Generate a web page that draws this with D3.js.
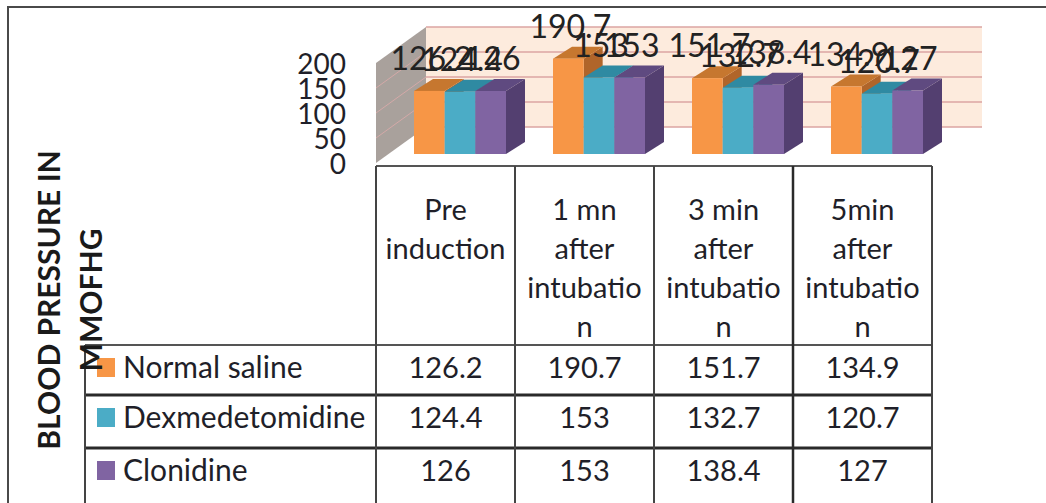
<!DOCTYPE html>
<html>
<head>
<meta charset="utf-8">
<script src="https://cdn.jsdelivr.net/npm/d3@7"></script>
<style>
	body { margin: 0; background: #fff; }
	svg { display: block; font-family: Lato, "Open Sans", sans-serif; }
</style>
</head>
<body>
<div id="root"></div>
<script>
const width = 1046;
const height = 503;

// data
const categories = ["Pre induction", "1 mn after intubation", "3 min after intubation", "5min after intubation"];
const headerLines = [["Pre", "induction"], ["1 mn", "after", "intubatio", "n"], ["3 min", "after", "intubatio", "n"], ["5min", "after", "intubatio", "n"]];
const seriesNames = ["Normal saline", "Dexmedetomidine", "Clonidine"];
const normalSaline = [126.2, 190.7, 151.7, 134.9];
const dexmedetomidine = [124.4, 153, 132.7, 120.7];
const clonidine = [126, 153, 138.4, 127];
const yTicks = [0, 50, 100, 150, 200];
const axisTitle = ["BLOOD PRESSURE IN", "MMOFHG"];

const seriesValues = [normalSaline, dexmedetomidine, clonidine];
const palette = {
	"Normal saline": { front: "#f79646", top: "#c6772f", side: "#b0652a" },
	"Dexmedetomidine": { front: "#4bacc6", top: "#2f8aa2", side: "#317e93" },
	"Clonidine": { front: "#8064a2", top: "#5f4a80", side: "#533f70" }
};
const textColor = "#1f1f29";

const svg = d3.select("#root")
	.append("svg")
		.attr("width", width)
		.attr("height", height);

// scales
const x0 = d3.scaleBand()
	.domain(categories)
	.range([376, 932]);
const x1 = d3.scaleBand()
	.domain(seriesNames)
	.range([38, 130]);
const yWall = d3.scaleLinear()
	.domain([0, 200])
	.range([163, 63]);
const yBar = d3.scaleLinear()
	.domain([0, 200])
	.range([154, 54]);

const wallDx = 50, wallDy = -36;
const barDx = 19, barDy = -12;

// outer frame
svg.append("path")
	.attr("d", `M8,${height} V7 H${width}`)
	.style("fill", "none")
	.style("stroke", "#4a4a4a")
	.style("stroke-width", 2);

// back wall + side wall
const wallLeft = x0.range()[0], wallRight = x0.range()[1];
svg.append("rect")
	.attr("x", wallLeft + wallDx)
	.attr("y", yWall(200) + wallDy)
	.attr("width", wallRight - wallLeft)
	.attr("height", yWall(0) - yWall(200))
	.style("fill", "#fdebdd");

svg.append("path")
	.attr("d", `M${wallLeft},${yWall(0)} V${yWall(200)} L${wallLeft + wallDx},${yWall(200) + wallDy} V${yWall(0) + wallDy} Z`)
	.style("fill", "#a9a19c");

const grid = svg.append("g").attr("class", "grid");
grid.selectAll(".back")
	.data(yTicks).enter()
	.append("line")
		.attr("x1", wallLeft + wallDx)
		.attr("x2", wallRight + wallDx)
		.attr("y1", d => yWall(d) + wallDy)
		.attr("y2", d => yWall(d) + wallDy)
		.style("stroke", "#dba4a2")
		.style("stroke-width", 1.5);
grid.selectAll(".side")
	.data(yTicks.slice(1, -1)).enter()
	.append("line")
		.attr("x1", wallLeft)
		.attr("x2", wallLeft + wallDx)
		.attr("y1", d => yWall(d))
		.attr("y2", d => yWall(d) + wallDy)
		.style("stroke", "#d4a9a8")
		.style("stroke-width", 1);

// y tick labels
svg.selectAll(".tick")
	.data(yTicks).enter()
	.append("text")
		.attr("x", 346)
		.attr("y", d => yWall(d) + 11)
		.text(d => d)
		.style("font-size", "28px")
		.style("fill", textColor)
		.style("text-anchor", "end");

// bars
const bars = [];
categories.forEach((c, ci) => {
	seriesNames.forEach((s, si) => {
		bars.push({ cat: c, series: s, value: seriesValues[si][ci] });
	});
});

const barW = x1.bandwidth();
const items = svg.selectAll(".bar")
	.data(bars).enter()
	.append("g")
		.attr("class", "bar");

items.append("path")
	.attr("d", d => {
		const x = x0(d.cat) + x1(d.series) + barW, t = yBar(d.value), b = yBar(0);
		return `M${x},${t} l${barDx},${barDy} V${b + barDy} L${x},${b} Z`;
	})
	.style("fill", d => palette[d.series].side);

items.append("path")
	.attr("d", d => {
		const x = x0(d.cat) + x1(d.series), t = yBar(d.value);
		return `M${x},${t} l${barDx},${barDy} h${barW} l${-barDx},${-barDy} Z`;
	})
	.style("fill", d => palette[d.series].top);

items.append("rect")
	.attr("x", d => x0(d.cat) + x1(d.series))
	.attr("y", d => yBar(d.value))
	.attr("width", barW)
	.attr("height", d => yBar(0) - yBar(d.value))
	.style("fill", d => palette[d.series].front);

// data labels (they overlap in the original too)
svg.selectAll(".label")
	.data(bars).enter()
	.append("text")
		.attr("x", d => x0(d.cat) + x1(d.series) + barW / 2 + 2)
		.attr("y", d => yBar(d.value) - 21)
		.text(d => d.value)
		.style("font-size", "32px")
		.style("fill", "#222")
		.style("text-anchor", "middle");

// data table
const legendLeft = 85;
const headerTop = 166;
const rowTops = [345, 395, 448];
const table = svg.append("g").attr("class", "table");

table.append("line")
	.attr("x1", wallLeft).attr("x2", wallRight)
	.attr("y1", headerTop).attr("y2", headerTop)
	.style("stroke", "#555").style("stroke-width", 2);

table.selectAll(".hline")
	.data(rowTops).enter()
	.append("line")
		.attr("x1", legendLeft).attr("x2", wallRight)
		.attr("y1", d => d).attr("y2", d => d)
		.style("stroke", (d, i) => i === 0 ? "#555" : "#2a2a2a")
		.style("stroke-width", (d, i) => i === 0 ? 2 : 3);

const colEdges = categories.map(c => x0(c)).concat([wallRight]);
table.selectAll(".vline")
	.data(colEdges).enter()
	.append("line")
		.attr("x1", d => d).attr("x2", d => d)
		.attr("y1", headerTop).attr("y2", height)
		.style("stroke", (d, i) => i === 3 ? "#2a2a2a" : "#444")
		.style("stroke-width", (d, i) => i === 3 ? 2.5 : 2);

table.append("line")
	.attr("x1", legendLeft).attr("x2", legendLeft)
	.attr("y1", rowTops[0]).attr("y2", height)
	.style("stroke", "#444").style("stroke-width", 2);

// column headers
categories.forEach((c, ci) => {
	table.append("text")
		.attr("x", x0(c) + x0.bandwidth() / 2)
		.attr("y", 220)
		.style("font-size", "29px")
		.style("fill", textColor)
		.style("text-anchor", "middle")
		.selectAll("tspan")
		.data(headerLines[ci]).enter()
		.append("tspan")
			.attr("x", x0(c) + x0.bandwidth() / 2)
			.attr("dy", (d, i) => i === 0 ? 0 : 39)
			.text(d => d);
});

// table rows
seriesNames.forEach((s, si) => {
	const base = rowTops[si] + 33;
	table.append("rect")
		.attr("x", 97).attr("y", base - 20)
		.attr("width", 18).attr("height", 19)
		.style("fill", palette[s].front);
	table.append("text")
		.attr("x", 123).attr("y", base)
		.text(s)
		.style("font-size", "30px")
		.style("fill", textColor);
	table.selectAll(".cell" + si)
		.data(categories).enter()
		.append("text")
			.attr("x", c => x0(c) + x0.bandwidth() / 2)
			.attr("y", base)
			.text((c, ci) => seriesValues[si][ci])
			.style("font-size", "29px")
			.style("fill", textColor)
			.style("text-anchor", "middle");
});

// axis title
svg.append("text")
	.attr("transform", "translate(60,300) rotate(-90)")
	.style("font-size", "30px")
	.style("font-weight", "bold")
	.style("fill", "#1a1a1a")
	.style("text-anchor", "middle")
	.selectAll("tspan")
	.data(axisTitle).enter()
	.append("tspan")
		.attr("x", 0)
		.attr("dy", (d, i) => i === 0 ? 0 : 42)
		.text(d => d);
</script>
</body>
</html>
